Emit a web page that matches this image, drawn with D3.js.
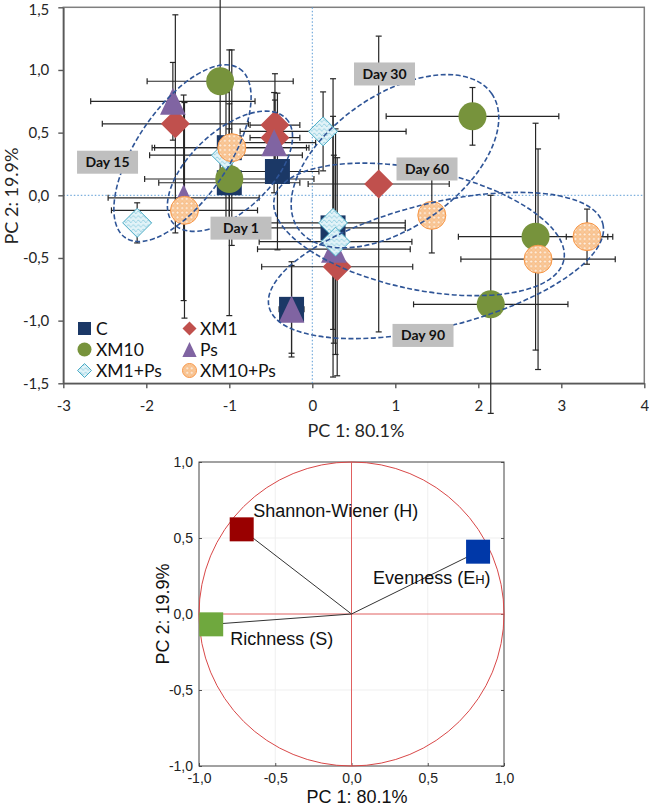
<!DOCTYPE html>
<html><head><meta charset="utf-8">
<script src="https://cdn.jsdelivr.net/npm/d3@7"></script>
<style>body{margin:0;background:#fff}svg{display:block}</style>
</head><body>
<svg id="chart" width="649" height="807"></svg>
<script>
// ---------------- DATA ----------------
const days = ["Day 1", "Day 15", "Day 30", "Day 60", "Day 90"];
const treatments = ["C", "XM1", "XM10", "Ps", "XM1+Ps", "XM10+Ps"];

// PCA scores (PC1, PC2) and their SD, per day, for each treatment
const pc1C = [-1.00, -1.00, -0.42, 0.25, -0.25];
const pc2C = [0.10, 0.38, 0.19, -0.26, -0.91];
const sd1C = [0.85, 0.93, 0.50, 0.87, 0.15];
const sd2C = [1.06, 0.35, 0.625, 1.19, 0.38];

const pc1XM1 = [-0.45, -1.65, -0.45, 0.80, 0.30];
const pc2XM1 = [0.46, 0.57, 0.56, 0.09, -0.57];
const sd1XM1 = [0.30, 0.88, 0.30, 0.85, 0.91];
const sd2XM1 = [0.30, 0.87, 0.41, 1.18, 0.87];

const pc1XM10 = [-1.00, -1.11, 1.93, 2.69, 2.15];
const pc2XM10 = [0.13, 0.91, 0.63, -0.33, -0.87];
const sd1XM10 = [1.02, 0.88, 1.04, 0.93, 0.93];
const sd2XM10 = [0.40, 0.72, 0.23, 0.905, 0.87];

const pc1Ps = [-1.55, -1.68, -0.46, 0.26, -0.25];
const pc2Ps = [-0.02, 0.75, 0.42, -0.43, -0.91];
const sd1Ps = [0.91, 0.99, 0.50, 0.92, 0.10];
const sd2Ps = [0.82, 0.31, 0.40, 0.75, 0.35];

const pc1XM1Ps = [-1.04, -2.11, 0.13, 0.25, 0.28];
const pc2XM1Ps = [0.32, -0.22, 0.51, -0.22, -0.37];
const sd1XM1Ps = [0.92, 0.10, 1.00, 0.87, 0.92];
const sd2XM1Ps = [0.50, 0.16, 0.315, 0.85, 0.90];

const pc1XM10Ps = [-0.97, -1.54, 1.44, 3.31, 2.72];
const pc2XM10Ps = [0.38, -0.12, -0.16, -0.33, -0.51];
const sd1XM10Ps = [0.93, 0.88, 0.10, 0.25, 0.93];
const sd2XM10Ps = [0.78, 0.86, 0.30, 0.22, 0.88];

// Day group annotations (centres in PC units)
const groupDays = ["Day 15", "Day 1", "Day 30", "Day 60", "Day 90"];
const groupCx = [-1.564, -0.992, 0.996, 1.286, 1.490];
const groupCy = [0.336, 0.192, 0.272, -0.272, -0.56];
const tagX = [-2.467, -0.859, 0.870, 1.382, 1.334];
const tagY = [0.264, -0.262, 0.968, 0.210, -1.118];

// axis tick labels
const xTicks = [-3, -2, -1, 0, 1, 2, 3, 4];
const yTicks = [-1.5, -1, -0.5, 0, 0.5, 1, 1.5];
const loadTicks = [-1, -0.5, 0, 0.5, 1];

// loading plot
const variables = ["Shannon-Wiener (H)", "Evenness (E", "Richness (S)"];
const load1 = [-0.72, 0.83, -0.92];
const load2 = [0.557, 0.41, -0.068];

// ---------------- STYLE / LAYOUT ----------------
const ellipseGeom = [ // rx, ry (px), rotation (deg)
  [102, 46, -56], [77, 40, -43], [118, 66, -35], [148, 60, 12], [172, 62, -14]
];
const seriesStyle = {
  "C":       {shape: "square",   fill: "#1B3866", stroke: "none"},
  "XM1":     {shape: "diamond",  fill: "#C0504D", stroke: "none"},
  "XM10":    {shape: "circle",   fill: "#77933C", stroke: "none"},
  "Ps":      {shape: "triangle", fill: "#8064A2", stroke: "none"},
  "XM1+Ps":  {shape: "diamond",  fill: "url(#patCyan)", stroke: "#4BACC6"},
  "XM10+Ps": {shape: "circle",   fill: "url(#patOrange)", stroke: "#F79646"}
};
const loadColors = ["#990000", "#0038A8", "#6FA83E"];

const series = [
  {name: "C", p1: pc1C, p2: pc2C, s1: sd1C, s2: sd2C},
  {name: "XM1", p1: pc1XM1, p2: pc2XM1, s1: sd1XM1, s2: sd2XM1},
  {name: "XM10", p1: pc1XM10, p2: pc2XM10, s1: sd1XM10, s2: sd2XM10},
  {name: "Ps", p1: pc1Ps, p2: pc2Ps, s1: sd1Ps, s2: sd2Ps},
  {name: "XM1+Ps", p1: pc1XM1Ps, p2: pc2XM1Ps, s1: sd1XM1Ps, s2: sd2XM1Ps},
  {name: "XM10+Ps", p1: pc1XM10Ps, p2: pc2XM10Ps, s1: sd1XM10Ps, s2: sd2XM10Ps}
].map(s => ({...s, pts: days.map((d, i) => ({day: d, x: s.p1[i], y: s.p2[i], ex: s.s1[i], ey: s.s2[i]}))}));

const svg = d3.select("#chart");
const defs = svg.append("defs");
const po = defs.append("pattern").attr("id", "patOrange").attr("patternUnits", "userSpaceOnUse")
  .attr("width", 4.6).attr("height", 4.6);
po.append("rect").attr("width", 4.6).attr("height", 4.6).attr("fill", "#F9C898");
po.append("circle").attr("cx", 2.3).attr("cy", 2.3).attr("r", 1.45).attr("fill", "#FFF5EA")
  .attr("stroke", "#F2A05A").attr("stroke-width", 0.5);
const pcy = defs.append("pattern").attr("id", "patCyan").attr("patternUnits", "userSpaceOnUse")
  .attr("width", 5).attr("height", 4.5);
pcy.append("rect").attr("width", 5).attr("height", 4.5).attr("fill", "#E2F3F8");
pcy.append("path").attr("d", "M0,3 Q1.25,0.3 2.5,3 T5,3").attr("fill", "none")
  .attr("stroke", "#7EC6DA").attr("stroke-width", 0.8);

function markerPath(shape, s) {
  if (shape === "square") return `M${-s},${-s}H${s}V${s}H${-s}Z`;
  if (shape === "diamond") return `M0,${-s}L${s},0L0,${s}L${-s},0Z`;
  if (shape === "triangle") return `M0,${-s}L${s * 0.95},${s}L${-s * 0.95},${s}Z`;
  return `M${-s},0A${s},${s} 0 1,0 ${s},0A${s},${s} 0 1,0 ${-s},0Z`;
}
const markerSize = {square: 12.5, diamond: 14.5, triangle: 13.5, circle: 14};
const legendSize = {square: 6.5, diamond: 7, triangle: 7.5, circle: 7};

const fmtComma = v => v.toFixed(1).replace(".", ",");

// ---------------- TOP: PCA SCORES ----------------
const x = d3.scaleLinear().domain([-3, 4]).range([63.3, 644.3]);
const y = d3.scaleLinear().domain([-1.5, 1.5]).range([383.3, 7.3]);
const topG = svg.append("g");
const FONT_TOP = "Lato, 'Open Sans', sans-serif";

topG.append("rect").attr("x", x(-3)).attr("y", y(1.5))
  .attr("width", x(4) - x(-3)).attr("height", y(-1.5) - y(1.5))
  .attr("fill", "none").attr("stroke", "#7F7F7F").attr("stroke-width", 1.5);

topG.append("line").attr("x1", x(0)).attr("x2", x(0)).attr("y1", y(1.5)).attr("y2", y(-1.5))
  .attr("stroke", "#5B9BD5").attr("stroke-width", 1).attr("stroke-dasharray", "1.5,2");
topG.append("line").attr("x1", x(-3)).attr("x2", x(4)).attr("y1", y(0)).attr("y2", y(0))
  .attr("stroke", "#5B9BD5").attr("stroke-width", 1).attr("stroke-dasharray", "1.5,2");

const yAx = topG.append("g").attr("transform", `translate(${x(-3)},0)`)
  .call(d3.axisLeft(y).tickValues(yTicks).tickSize(5).tickSizeOuter(0).tickPadding(9).tickFormat(d => fmtComma(d)));
const xAx = topG.append("g").attr("transform", `translate(0,${y(-1.5)})`)
  .call(d3.axisBottom(x).tickValues(xTicks).tickSize(5).tickSizeOuter(0).tickPadding(12).tickFormat(d => String(d)));
[yAx, xAx].forEach(a => {
  a.select(".domain").attr("stroke", "#595959").attr("stroke-width", 1.6);
  a.selectAll(".tick line").attr("stroke", "#595959").attr("stroke-width", 1.4);
  a.selectAll("text").attr("font-family", FONT_TOP).attr("font-size", 15).attr("fill", "#262626");
});
// keep the top tick label inside the picture
yAx.selectAll(".tick text").filter(d => d === 1.5).attr("dy", "0.5em");

// error bars
const ebG = topG.append("g").attr("stroke", "#262626").attr("stroke-width", 1.2);
const cap = 3;
series.forEach(s => s.pts.forEach(p => {
  const cx = x(p.x), cy = y(p.y);
  const xl = x(p.x - p.ex), xr = x(p.x + p.ex), yt = y(p.y + p.ey), yb = y(p.y - p.ey);
  ebG.append("line").attr("x1", xl).attr("x2", xr).attr("y1", cy).attr("y2", cy);
  ebG.append("line").attr("x1", xl).attr("x2", xl).attr("y1", cy - cap).attr("y2", cy + cap);
  ebG.append("line").attr("x1", xr).attr("x2", xr).attr("y1", cy - cap).attr("y2", cy + cap);
  ebG.append("line").attr("x1", cx).attr("x2", cx).attr("y1", yt).attr("y2", yb);
  ebG.append("line").attr("x1", cx - cap).attr("x2", cx + cap).attr("y1", yt).attr("y2", yt);
  ebG.append("line").attr("x1", cx - cap).attr("x2", cx + cap).attr("y1", yb).attr("y2", yb);
}));

// markers
series.forEach(s => {
  const st = seriesStyle[s.name];
  topG.append("g").selectAll("path").data(s.pts).join("path")
    .attr("transform", p => `translate(${x(p.x)},${y(p.y)})`)
    .attr("d", markerPath(st.shape, markerSize[st.shape]))
    .attr("fill", st.fill).attr("stroke", st.stroke).attr("stroke-width", 1);
});

// day ellipses
groupDays.forEach((d, i) => {
  const [rx, ry, ang] = ellipseGeom[i];
  const cx = x(groupCx[i]), cy = y(groupCy[i]);
  topG.append("ellipse").attr("cx", cx).attr("cy", cy).attr("rx", rx).attr("ry", ry)
    .attr("transform", `rotate(${ang},${cx},${cy})`)
    .attr("fill", "none").attr("stroke", "#2F5597").attr("stroke-width", 1.6)
    .attr("stroke-dasharray", "5,2.5");
});
groupDays.forEach((d, i) => {
  const cx = x(tagX[i]), cy = y(tagY[i]);
  topG.append("rect").attr("x", cx - 30.5).attr("y", cy - 11.5).attr("width", 61).attr("height", 23)
    .attr("fill", "#BFBFBF");
  topG.append("text").attr("x", cx).attr("y", cy).attr("dy", "0.35em").attr("text-anchor", "middle")
    .attr("font-family", FONT_TOP).attr("font-weight", "bold").attr("font-size", 14)
    .attr("fill", "#111").text(d);
});

// legend
const legX = [84.5, 189.5], legTextX = [96, 200], legY = [328.5, 349.5, 370.5];
treatments.forEach((t, i) => {
  const st = seriesStyle[t];
  const col = i % 2, row = Math.floor(i / 2);
  topG.append("path").attr("transform", `translate(${legX[col]},${legY[row]})`)
    .attr("d", markerPath(st.shape, legendSize[st.shape]))
    .attr("fill", st.fill).attr("stroke", st.stroke).attr("stroke-width", 1);
  topG.append("text").attr("x", legTextX[col]).attr("y", legY[row]).attr("dy", "0.36em")
    .attr("font-family", FONT_TOP).attr("font-size", 17.5).attr("fill", "#111").text(t);
});

// axis titles
topG.append("text").attr("x", 356).attr("y", 437).attr("text-anchor", "middle")
  .attr("font-family", FONT_TOP).attr("font-size", 18).attr("fill", "#262626").text("PC 1: 80.1%");
topG.append("text").attr("transform", "translate(18,196) rotate(-90)").attr("text-anchor", "middle")
  .attr("font-family", FONT_TOP).attr("font-size", 18).attr("fill", "#262626").text("PC 2: 19.9%");

// ---------------- BOTTOM: LOADINGS ----------------
const FONT_B = "'Liberation Sans', Arial, sans-serif";
const bx = d3.scaleLinear().domain([-1, 1]).range([199, 504]);
const by = d3.scaleLinear().domain([-1, 1]).range([766, 462]);
const bG = svg.append("g");

bG.append("g").selectAll("line").data(loadTicks.filter(v => Math.abs(v) === 0.5)).join("line")
  .attr("x1", d => bx(d)).attr("x2", d => bx(d)).attr("y1", by(1)).attr("y2", by(-1))
  .attr("stroke", "#EFEFEF");
bG.append("g").selectAll("line").data(loadTicks.filter(v => Math.abs(v) === 0.5)).join("line")
  .attr("y1", d => by(d)).attr("y2", d => by(d)).attr("x1", bx(-1)).attr("x2", bx(1))
  .attr("stroke", "#EFEFEF");

const byAx = bG.append("g").attr("transform", `translate(${bx(-1)},0)`)
  .call(d3.axisLeft(by).tickValues(loadTicks).tickSize(-3).tickSizeOuter(0).tickPadding(6).tickFormat(d => fmtComma(d)));
const bxAx = bG.append("g").attr("transform", `translate(0,${by(-1)})`)
  .call(d3.axisBottom(bx).tickValues(loadTicks).tickSize(-3).tickSizeOuter(0).tickPadding(7).tickFormat(d => fmtComma(d)));
[byAx, bxAx].forEach(a => {
  a.select(".domain").attr("stroke", "none");
  a.selectAll(".tick line").attr("stroke", "#555");
  a.selectAll("text").attr("font-family", FONT_B).attr("font-size", 14).attr("fill", "#222");
});
bG.append("g").attr("transform", `translate(${bx(1)},0)`)
  .call(d3.axisRight(by).tickValues(loadTicks).tickSize(-3).tickSizeOuter(0).tickFormat(""))
  .call(a => { a.select(".domain").attr("stroke", "none"); a.selectAll(".tick line").attr("stroke", "#555"); });

bG.append("rect").attr("x", bx(-1)).attr("y", by(1)).attr("width", bx(1) - bx(-1)).attr("height", by(-1) - by(1))
  .attr("fill", "none").attr("stroke", "#444").attr("stroke-width", 1);

bG.append("line").attr("x1", bx(0)).attr("x2", bx(0)).attr("y1", by(1)).attr("y2", by(-1))
  .attr("stroke", "#E06060").attr("stroke-width", 1);
bG.append("line").attr("x1", bx(-1)).attr("x2", bx(1)).attr("y1", by(0)).attr("y2", by(0))
  .attr("stroke", "#E06060").attr("stroke-width", 1);
bG.append("ellipse").attr("cx", bx(0)).attr("cy", by(0)).attr("rx", bx(1) - bx(0)).attr("ry", by(0) - by(1))
  .attr("fill", "none").attr("stroke", "#D94848").attr("stroke-width", 1);

variables.forEach((v, i) => {
  bG.append("line").attr("x1", bx(0)).attr("y1", by(0)).attr("x2", bx(load1[i])).attr("y2", by(load2[i]))
    .attr("stroke", "#333").attr("stroke-width", 1);
});
variables.forEach((v, i) => {
  bG.append("rect").attr("x", bx(load1[i]) - 12).attr("y", by(load2[i]) - 12).attr("width", 24).attr("height", 24)
    .attr("fill", loadColors[i]);
});
const labOff = [[11.6, -12.3, "start"], [12.5, 32.3, "end"], [19, 20.7, "start"]];
variables.forEach((v, i) => {
  const t = bG.append("text").attr("x", bx(load1[i]) + labOff[i][0]).attr("y", by(load2[i]) + labOff[i][1])
    .attr("text-anchor", labOff[i][2]).attr("font-family", FONT_B).attr("font-size", 18).attr("fill", "#111");
  if (i === 1) {
    t.append("tspan").text(v);
    t.append("tspan").attr("font-size", 13).text("H");
    t.append("tspan").text(")");
  } else t.text(v);
});

bG.append("text").attr("x", 357).attr("y", 803).attr("text-anchor", "middle")
  .attr("font-family", FONT_B).attr("font-size", 18).attr("fill", "#111").text("PC 1: 80.1%");
bG.append("text").attr("transform", `translate(169,${by(0)}) rotate(-90)`).attr("text-anchor", "middle")
  .attr("font-family", FONT_B).attr("font-size", 18).attr("fill", "#111").text("PC 2: 19.9%");
</script>
</body></html>
